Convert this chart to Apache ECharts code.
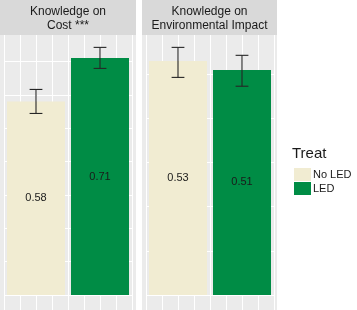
<!DOCTYPE html>
<html><head><meta charset="utf-8">
<script src="https://cdn.jsdelivr.net/npm/echarts@6/dist/echarts.min.js"></script>
<style>html,body{margin:0;padding:0;background:#fff}#c{width:357px;height:310px}</style>
</head><body><div id="c"></div>
<script>
// ---- data ----
const facetTitles = ['Knowledge on\nCost ***', 'Knowledge on\nEnvironmental Impact'];
const treatments = ['No LED', 'LED'];
const treatPos = [1, 2];
const costMean = [0.58, 0.71];
const costLow = [0.544, 0.679];
const costHigh = [0.616, 0.742];
const envMean = [0.53, 0.51];
const envLow = [0.493, 0.473];
const envHigh = [0.561, 0.543];
const legendTitle = 'Treat';

// ---- style / layout ----
const FONT = '"Liberation Sans", Arial, sans-serif';
const treatColors = ['#F1ECD2', '#008C45'];
const INK = '#1a1a1a';
const panelTop = 35, zeroY = 295, yMinVal = -0.1;
const panels = [
  {title: facetTitles[0], mean: costMean, low: costLow, high: costHigh, bgLeft: 0, bgRight: 136, gridLeft: 4},
  {title: facetTitles[1], mean: envMean, low: envLow, high: envHigh, bgLeft: 142, bgRight: 277, gridLeft: 146}
];

const grids = [], xAxes = [], yAxes = [], series = [], graphics = [];
panels.forEach((p, pi) => {
  const yMax = Math.max(...p.high) * 1.05;
  const h = (zeroY - panelTop) * (yMax - yMinVal) / yMax;
  grids.push({left: p.gridLeft, top: panelTop, width: 128, height: h, containLabel: false, outerBoundsMode: 'none'});
  xAxes.push({type: 'value', gridIndex: pi, min: 0.5, max: 2.5, interval: 0.25,
    axisLine: {show: false}, axisTick: {show: false}, axisLabel: {show: false},
    splitLine: {show: true, lineStyle: {color: '#ffffff', width: 1}}});
  yAxes.push({type: 'value', gridIndex: pi, min: yMinVal, max: yMax, interval: 0.1,
    axisLine: {show: false}, axisTick: {show: false}, axisLabel: {show: false},
    splitLine: {show: true, showMaxLine: false, lineStyle: {color: '#ffffff', width: 1}}});
  treatments.forEach((t, ti) => {
    series.push({type: 'bar', name: t, xAxisIndex: pi, yAxisIndex: pi, stack: 'p' + pi,
      barWidth: 58, silent: true,
      itemStyle: {color: treatColors[ti]},
      label: {show: true, position: 'inside', fontSize: 11, color: INK, fontFamily: FONT,
        formatter: prm => prm.value[1].toFixed(2)},
      data: [[treatPos[ti], p.mean[ti]]]});
  });
  series.push({type: 'custom', xAxisIndex: pi, yAxisIndex: pi, silent: true, z: 5,
    encode: {x: 0, y: [1, 2]},
    data: treatPos.map((x, i) => [x, p.low[i], p.high[i]]),
    renderItem: (params, api) => {
      const x = api.value(0), lo = api.value(1), hi = api.value(2);
      const a = api.coord([x, lo]), b = api.coord([x, hi]);
      const hw = api.size([0.1, 0])[0];
      const st = {stroke: '#262626', lineWidth: 1.1};
      return {type: 'group', children: [
        {type: 'line', shape: {x1: a[0], y1: a[1], x2: b[0], y2: b[1]}, style: st},
        {type: 'line', shape: {x1: a[0] - hw, y1: a[1], x2: a[0] + hw, y2: a[1]}, style: st},
        {type: 'line', shape: {x1: b[0] - hw, y1: b[1], x2: b[0] + hw, y2: b[1]}, style: st}
      ]};
    }});
  const w = p.bgRight - p.bgLeft;
  graphics.push({type: 'rect', z: -10, silent: true,
    shape: {x: p.bgLeft, y: panelTop, width: w, height: 310 - panelTop}, style: {fill: '#EBEBEB'}});
  graphics.push({type: 'rect', z: -10, silent: true,
    shape: {x: p.bgLeft, y: 0, width: w, height: panelTop}, style: {fill: '#D9D9D9'}});
  graphics.push({type: 'text', z: 10, silent: true, x: p.bgLeft + w / 2, y: 19,
    style: {text: p.title, font: '12px ' + FONT, fill: INK, align: 'center', verticalAlign: 'middle', lineHeight: 14}});
});
graphics.push({type: 'text', z: 10, silent: true, x: 292, y: 154,
  style: {text: legendTitle, font: '15px ' + FONT, fill: INK, align: 'left', verticalAlign: 'middle'}});

const chart = echarts.init(document.getElementById('c'), null, {renderer: 'canvas'});
chart.setOption({
  animation: false,
  textStyle: {fontFamily: FONT},
  grid: grids, xAxis: xAxes, yAxis: yAxes, series: series,
  legend: {data: treatments, orient: 'vertical', left: 294, top: 168, itemWidth: 17, itemHeight: 13,
    itemGap: 1, icon: 'rect', selectedMode: false, padding: 0,
    textStyle: {fontSize: 11, color: INK, fontFamily: FONT, padding: [0, 0, 0, -3]}},
  graphic: {elements: graphics}
});
</script></body></html>
